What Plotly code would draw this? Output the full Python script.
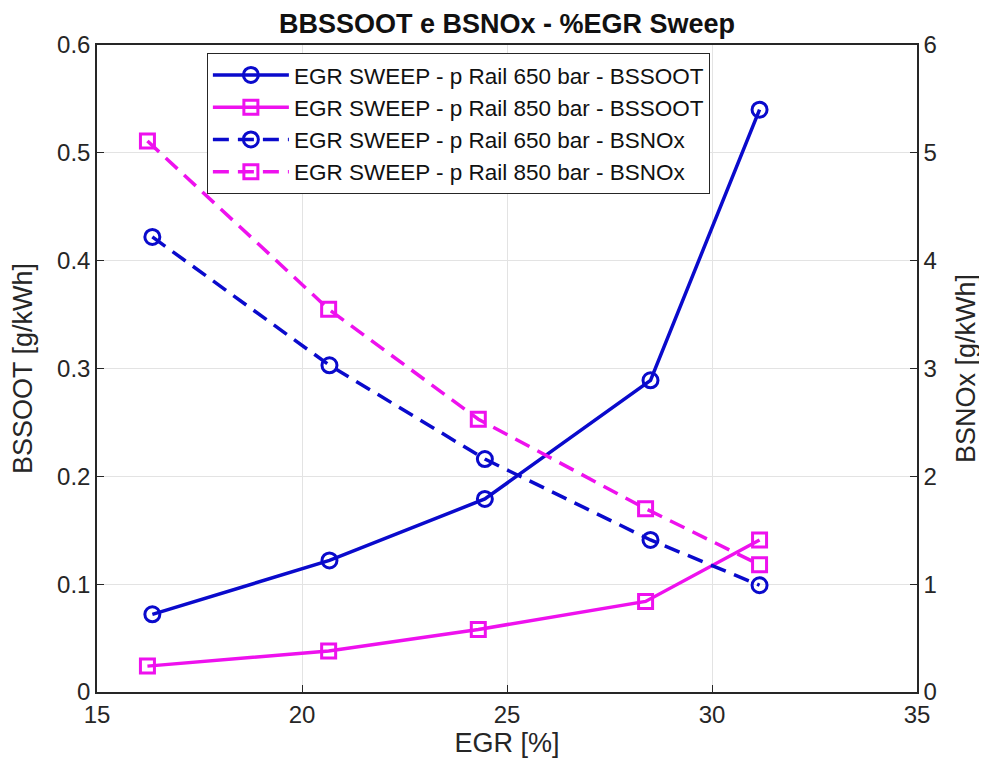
import plotly.graph_objects as go

egr_650 = [16.35, 20.67, 24.46, 28.5, 31.16]
egr_850 = [16.23, 20.65, 24.3, 28.38, 31.16]
soot_650 = [0.072, 0.122, 0.179, 0.289, 0.540]
soot_850 = [0.024, 0.038, 0.058, 0.084, 0.141]
nox_650 = [4.22, 3.03, 2.16, 1.41, 0.99]
nox_850 = [5.11, 3.55, 2.53, 1.70, 1.18]

BLUE = "#0a0acc"
MAG = "#ee11ee"
fnt = "Liberation Sans, Arial, sans-serif"
DASH = "16px,9px"

fig = go.Figure()
fig.add_trace(go.Scatter(x=egr_650, y=soot_650, mode="lines+markers",
                         name="EGR SWEEP - p Rail 650 bar - BSSOOT",
                         line=dict(color=BLUE, width=3.5),
                         marker=dict(symbol="circle-open", size=15, color=BLUE, line=dict(width=3))))
fig.add_trace(go.Scatter(x=egr_850, y=soot_850, mode="lines+markers",
                         name="EGR SWEEP - p Rail 850 bar - BSSOOT",
                         line=dict(color=MAG, width=3.5),
                         marker=dict(symbol="square-open", size=14, color=MAG, line=dict(width=3))))
fig.add_trace(go.Scatter(x=egr_650, y=nox_650, mode="lines+markers", yaxis="y2",
                         name="EGR SWEEP - p Rail 650 bar - BSNOx",
                         line=dict(color=BLUE, width=3.5, dash=DASH),
                         marker=dict(symbol="circle-open", size=15, color=BLUE, line=dict(width=3))))
fig.add_trace(go.Scatter(x=egr_850, y=nox_850, mode="lines+markers", yaxis="y2",
                         name="EGR SWEEP - p Rail 850 bar - BSNOx",
                         line=dict(color=MAG, width=3.5, dash=DASH),
                         marker=dict(symbol="square-open", size=14, color=MAG, line=dict(width=3))))

axcommon = dict(showline=True, linecolor="#262626", linewidth=1.5, ticks="inside",
                ticklen=7, tickcolor="#262626", tickfont=dict(size=24, color="#262626", family=fnt),
                zeroline=False, automargin=False)

fig.update_layout(
    width=987, height=771,
    paper_bgcolor="white", plot_bgcolor="white",
    margin=dict(l=89, r=78, t=37, b=87),
    title=dict(text="<b>BBSSOOT e BSNOx - %EGR Sweep</b>", x=0.5, xanchor="center",
               xref="paper", yref="container", y=0.98, yanchor="middle",
               font=dict(size=27, color="#111", family=fnt)),
    font=dict(family=fnt, color="#262626"),
    xaxis=dict(range=[15, 35], dtick=5, mirror=True, showgrid=True, gridcolor="#e3e3e3",
               title=dict(text="EGR [%]", font=dict(size=27), standoff=4), **axcommon),
    yaxis=dict(range=[0, 0.6], dtick=0.1, showgrid=True, gridcolor="#e3e3e3",
               tickformat="~g",
               title=dict(text="BSSOOT [g/kWh]", font=dict(size=27), standoff=17), **axcommon),
    yaxis2=dict(range=[0, 6], dtick=1, overlaying="y", side="right", showgrid=False,
                title=dict(text="BSNOx [g/kWh]", font=dict(size=27), standoff=20), **axcommon),
    legend=dict(x=0.134, y=0.988, xanchor="left", yanchor="top",
                bgcolor="white", bordercolor="#262626", borderwidth=1,
                font=dict(size=22.5, color="#111", family=fnt), tracegroupgap=0,
                itemwidth=76),
    showlegend=True,
)

fig.write_html("out.html")
